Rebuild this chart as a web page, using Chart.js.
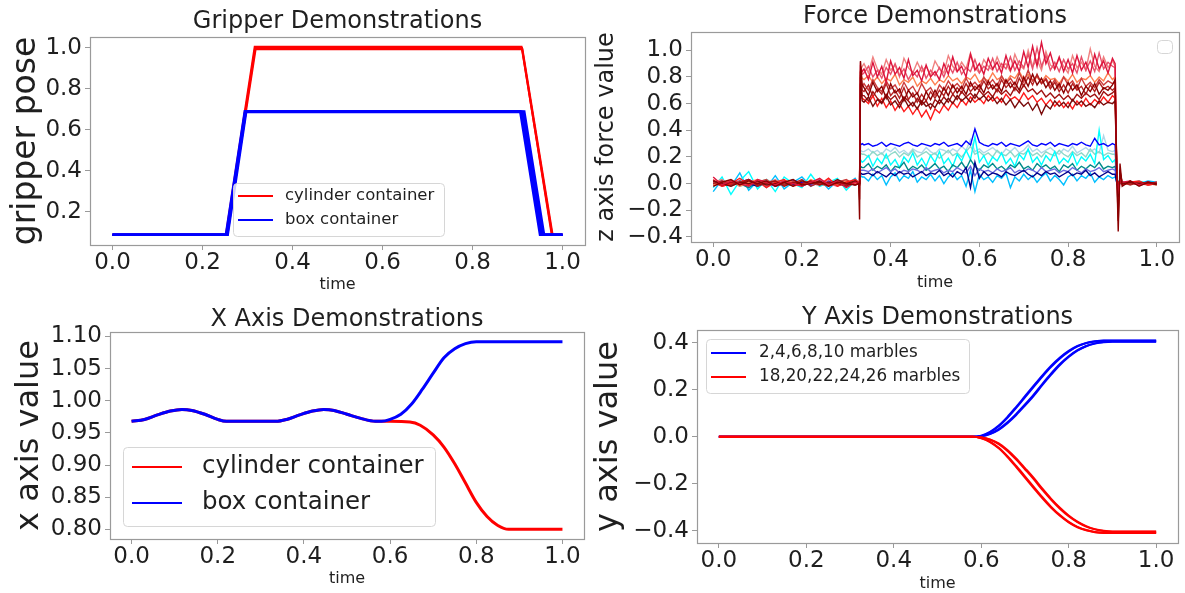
<!DOCTYPE html>
<html><head><meta charset="utf-8">
<script src="https://cdn.jsdelivr.net/npm/chart.js@4.4.1/dist/chart.umd.min.js"></script>
<style>
html,body{margin:0;padding:0;background:#fff;}
#wrap{position:relative;width:1185px;height:593px;overflow:hidden;background:#fff;}
canvas{position:absolute;}
</style></head><body>
<div id="wrap">
<canvas id="c1" width="592" height="296" style="left:0px;top:0px;width:592px;height:296px"></canvas>
<canvas id="c2" width="593" height="296" style="left:592px;top:0px;width:593px;height:296px"></canvas>
<canvas id="c3" width="592" height="297" style="left:0px;top:296px;width:592px;height:297px"></canvas>
<canvas id="c4" width="593" height="297" style="left:592px;top:296px;width:593px;height:297px"></canvas>
</div>
<script>
// ================= DATA =================
// --- Gripper Demonstrations ---
const gripYTicks = [0.2, 0.4, 0.6, 0.8, 1.0];
const gripLegendLabels = ['cylinder container', 'box container'];
const gripCylT1 = [0, 0.252, 0.316, 0.909, 0.977, 1.0];
const gripCylY1 = [0.088, 0.088, 1.005, 1.005, 0.088, 0.088];
const gripCylT2 = [0, 0.254, 0.318, 0.911, 0.978, 1.0];
const gripCylY2 = [0.088, 0.088, 0.992, 0.992, 0.088, 0.088];
const gripCylT3 = [0, 0.253, 0.317, 0.910, 0.976, 1.0];
const gripCylY3 = [0.088, 0.088, 0.998, 0.998, 0.088, 0.088];
const gripBoxT1 = [0, 0.252, 0.294, 0.906, 0.950, 1.0];
const gripBoxY1 = [0.088, 0.088, 0.690, 0.690, 0.088, 0.088];
const gripBoxT2 = [0, 0.254, 0.296, 0.909, 0.953, 1.0];
const gripBoxY2 = [0.088, 0.088, 0.688, 0.688, 0.088, 0.088];
const gripBoxT3 = [0, 0.256, 0.297, 0.912, 0.956, 1.0];
const gripBoxY3 = [0.088, 0.088, 0.686, 0.686, 0.088, 0.088];
const gripBoxT4 = [0, 0.255, 0.295, 0.915, 0.959, 1.0];
const gripBoxY4 = [0.088, 0.088, 0.689, 0.689, 0.088, 0.088];

// --- Force Demonstrations ---
const forceYTicks = [-0.4, -0.2, 0.0, 0.2, 0.4, 0.6, 0.8, 1.0];
const forceT = [
  0, 0.02, 0.04, 0.06, 0.08, 0.10, 0.12, 0.14, 0.16, 0.18, 0.20, 0.22, 0.24, 0.26, 0.28, 0.30, 0.32,
  0.328, 0.330, 0.332, 0.336,
  0.34, 0.35, 0.36, 0.37, 0.38, 0.39, 0.40, 0.41, 0.42, 0.43,
  0.44, 0.45, 0.46, 0.47, 0.48, 0.49, 0.50, 0.51, 0.52, 0.53,
  0.54, 0.55, 0.56, 0.57, 0.58, 0.59, 0.60, 0.61, 0.62, 0.63,
  0.64, 0.65, 0.66, 0.67, 0.68, 0.69, 0.70, 0.71, 0.72, 0.73,
  0.74, 0.75, 0.76, 0.77, 0.78, 0.79, 0.80, 0.81, 0.82, 0.83,
  0.84, 0.85, 0.86, 0.87, 0.88, 0.89, 0.90,
  0.906, 0.910, 0.913, 0.917, 0.922,
  0.94, 0.96, 0.98, 1.0
];
const forceDarkRed = [
  -0.02, 0.01, 0.03, -0.01, 0.02, 0.00, 0.02, -0.02, 0.01, 0.03, -0.01, 0.00, 0.02, -0.02, 0.01, 0.00, -0.01,
  0.00, -0.27, 0.92, 0.74,
  0.72, 0.66, 0.76, 0.69, 0.73, 0.64, 0.75, 0.68, 0.71, 0.62,
  0.70, 0.65, 0.68, 0.60, 0.69, 0.63, 0.70, 0.64, 0.72, 0.66,
  0.74, 0.68, 0.73, 0.67, 0.76, 0.70, 0.74, 0.68, 0.77, 0.71,
  0.75, 0.69, 0.78, 0.72, 0.76, 0.70, 0.80, 0.73, 0.82, 0.74,
  0.79, 0.72, 0.77, 0.70, 0.75, 0.68, 0.76, 0.70, 0.74, 0.66,
  0.73, 0.69, 0.75, 0.67, 0.72, 0.70, 0.74,
  0.78, 0.05, -0.36, 0.15, -0.02,
  0.02, -0.02, 0.01, 0.00
];
const forceCrimson = [
  0.05, -0.01, 0.02, 0.00, -0.02, 0.03, 0.01, -0.01, 0.02, 0.00, -0.02, 0.01, 0.04, -0.01, 0.02, -0.03, 0.01,
  0.00, 0.02, 0.88, 0.84,
  0.86, 0.78, 0.91, 0.80, 0.88, 0.76, 0.92, 0.82, 0.87, 0.79,
  0.93, 0.81, 0.85, 0.77, 0.89, 0.80, 0.84, 0.78, 0.90, 0.82,
  0.95, 0.84, 0.88, 0.80, 0.97, 0.85, 0.90, 0.82, 0.94, 0.86,
  0.91, 0.83, 0.96, 0.85, 0.92, 0.84, 0.99, 0.87, 1.03, 0.88,
  1.06, 0.90, 0.98, 0.86, 0.95, 0.84, 0.93, 0.83, 0.96, 0.85,
  0.91, 0.82, 0.97, 0.86, 0.92, 0.83, 0.94,
  0.90, 0.02, -0.05, 0.03, 0.01,
  0.02, -0.01, 0.01, 0.00
];
const forceMaroon = [
  0.02, 0.00, -0.02, 0.01, 0.00, 0.02, -0.01, 0.00, 0.01, -0.02, 0.02, 0.00, 0.01, -0.01, 0.03, 0.00, 0.02,
  0.00, 0.00, 0.75, 0.62,
  0.61, 0.65, 0.58, 0.63, 0.60, 0.66, 0.59, 0.62, 0.57, 0.64,
  0.58, 0.61, 0.56, 0.62, 0.58, 0.60, 0.57, 0.63, 0.59, 0.64,
  0.60, 0.66, 0.62, 0.65, 0.61, 0.67, 0.63, 0.66, 0.62, 0.65,
  0.60, 0.64, 0.59, 0.63, 0.57, 0.62, 0.58, 0.61, 0.55, 0.60,
  0.52, 0.59, 0.56, 0.62, 0.58, 0.61, 0.57, 0.63, 0.59, 0.62,
  0.58, 0.60, 0.57, 0.62, 0.59, 0.61, 0.60,
  0.62, 0.03, -0.10, 0.05, 0.00,
  0.01, 0.00, 0.01, -0.01
];
const forceBrown = [
  0.02, -0.01, 0.01, 0.00, 0.03, -0.01, 0.00, 0.02, -0.02, 0.01, 0.00, 0.02, -0.01, 0.01, 0.00, -0.02, 0.02,
  0.00, -0.12, 0.84, 0.66,
  0.66, 0.62, 0.69, 0.64, 0.61, 0.67, 0.63, 0.66, 0.60, 0.65,
  0.62, 0.58, 0.64, 0.59, 0.62, 0.56, 0.63, 0.60, 0.65, 0.61,
  0.67, 0.63, 0.69, 0.65, 0.68, 0.64, 0.70, 0.66, 0.69, 0.65,
  0.71, 0.67, 0.70, 0.66, 0.72, 0.68, 0.74, 0.69, 0.71, 0.67,
  0.70, 0.65, 0.68, 0.64, 0.67, 0.63, 0.66, 0.62, 0.67, 0.64,
  0.68, 0.65, 0.67, 0.63, 0.69, 0.66, 0.68,
  0.70, 0.04, -0.28, 0.10, 0.00,
  0.01, -0.01, 0.01, 0.00
];
const forceRed = [
  0.03, -0.02, 0.00, 0.04, -0.01, 0.02, -0.03, 0.01, 0.03, -0.02, 0.00, 0.02, -0.01, 0.04, -0.02, 0.01, 0.03,
  0.01, 0.00, 0.70, 0.64,
  0.63, 0.60, 0.66, 0.58, 0.64, 0.57, 0.62, 0.55, 0.60, 0.54,
  0.58, 0.52, 0.57, 0.50, 0.55, 0.48, 0.56, 0.53, 0.59, 0.55,
  0.61, 0.57, 0.63, 0.59, 0.65, 0.61, 0.64, 0.60, 0.66, 0.62,
  0.65, 0.61, 0.67, 0.63, 0.65, 0.62, 0.68, 0.63, 0.66, 0.61,
  0.64, 0.59, 0.63, 0.58, 0.62, 0.57, 0.61, 0.56, 0.62, 0.58,
  0.64, 0.59, 0.63, 0.60, 0.65, 0.61, 0.66,
  0.64, 0.03, 0.00, 0.02, -0.01,
  0.01, 0.02, -0.01, 0.00
];
const forceFirebrick = [
  0.00, 0.02, -0.01, 0.01, 0.03, -0.02, 0.01, 0.02, -0.01, 0.00, 0.03, -0.02, 0.01, 0.00, 0.02, -0.01, 0.02,
  0.00, 0.00, 0.80, 0.70,
  0.69, 0.74, 0.65, 0.71, 0.67, 0.75, 0.66, 0.70, 0.64, 0.72,
  0.63, 0.68, 0.61, 0.67, 0.62, 0.69, 0.64, 0.70, 0.66, 0.73,
  0.67, 0.72, 0.68, 0.75, 0.69, 0.73, 0.70, 0.77, 0.71, 0.74,
  0.69, 0.78, 0.72, 0.76, 0.70, 0.79, 0.73, 0.80, 0.74, 0.82,
  0.75, 0.78, 0.71, 0.76, 0.69, 0.74, 0.68, 0.75, 0.70, 0.73,
  0.67, 0.74, 0.69, 0.76, 0.71, 0.73, 0.70,
  0.72, 0.04, -0.20, 0.08, 0.01,
  -0.01, 0.01, 0.00, 0.01
];
const forceIndianRed = [
  0.01, -0.02, 0.00, 0.02, -0.01, 0.01, 0.03, -0.02, 0.00, 0.01, -0.01, 0.02, 0.00, -0.02, 0.01, 0.03, -0.01,
  0.00, 0.00, 0.78, 0.73,
  0.75, 0.70, 0.78, 0.72, 0.69, 0.77, 0.71, 0.74, 0.68, 0.76,
  0.70, 0.73, 0.67, 0.75, 0.69, 0.72, 0.66, 0.74, 0.70, 0.77,
  0.72, 0.75, 0.71, 0.79, 0.73, 0.76, 0.72, 0.80, 0.74, 0.78,
  0.73, 0.81, 0.75, 0.79, 0.74, 0.83, 0.76, 0.85, 0.77, 0.81,
  0.75, 0.79, 0.73, 0.78, 0.72, 0.80, 0.74, 0.77, 0.71, 0.79,
  0.73, 0.76, 0.72, 0.78, 0.74, 0.77, 0.75,
  0.76, 0.02, -0.04, 0.04, 0.00,
  0.00, 0.01, -0.01, 0.00
];
const forceCoral = [
  -0.01, 0.00, 0.02, -0.02, 0.01, 0.03, 0.00, -0.01, 0.02, 0.01, -0.02, 0.03, 0.00, 0.01, -0.01, 0.02, 0.00,
  0.00, 0.01, 0.82, 0.79,
  0.78, 0.81, 0.76, 0.80, 0.75, 0.79, 0.77, 0.82, 0.74, 0.78,
  0.76, 0.80, 0.73, 0.77, 0.75, 0.79, 0.74, 0.78, 0.76, 0.81,
  0.77, 0.79, 0.75, 0.80, 0.78, 0.82, 0.76, 0.79, 0.77, 0.83,
  0.78, 0.80, 0.76, 0.81, 0.79, 0.84, 0.78, 0.82, 0.77, 0.80,
  0.76, 0.81, 0.78, 0.79, 0.75, 0.80, 0.77, 0.82, 0.76, 0.79,
  0.78, 0.81, 0.76, 0.80, 0.77, 0.83, 0.78,
  0.80, 0.02, 0.00, 0.01, 0.00,
  0.00, 0.01, 0.00, -0.01
];
const forceSalmon = [
  -0.01, 0.01, 0.02, -0.01, 0.00, 0.02, -0.02, 0.01, 0.00, 0.02, -0.01, 0.01, 0.03, 0.00, -0.02, 0.01, 0.00,
  0.00, 0.00, 0.86, 0.82,
  0.83, 0.88, 0.80, 0.85, 0.79, 0.87, 0.82, 0.90, 0.81, 0.86,
  0.78, 0.84, 0.80, 0.88, 0.79, 0.85, 0.81, 0.87, 0.80, 0.89,
  0.83, 0.91, 0.82, 0.87, 0.84, 0.93, 0.83, 0.88, 0.85, 0.94,
  0.84, 0.90, 0.86, 0.95, 0.85, 0.92, 0.87, 0.97, 0.86, 1.02,
  0.88, 0.96, 0.85, 0.91, 0.84, 0.93, 0.86, 0.90, 0.83, 0.95,
  0.85, 0.92, 0.84, 0.98, 0.86, 0.91, 0.88,
  0.87, 0.01, 0.00, 0.01, 0.00,
  0.01, -0.01, 0.00, 0.01
];
const forceLightCoral = [
  0.01, 0.03, -0.02, 0.01, 0.02, -0.01, 0.00, 0.03, -0.02, 0.01, 0.02, 0.00, -0.01, 0.03, 0.00, 0.02, -0.01,
  0.01, 0.00, 0.85, 0.88,
  0.90, 0.83, 0.95, 0.86, 0.82, 0.93, 0.85, 0.89, 0.80, 0.94,
  0.87, 0.83, 0.91, 0.84, 0.88, 0.81, 0.92, 0.86, 0.83, 0.96,
  0.88, 0.84, 0.91, 0.86, 0.98, 0.87, 0.83, 0.93, 0.88, 0.85,
  0.95, 0.87, 0.90, 0.84, 0.97, 0.89, 0.86, 1.00, 0.88, 0.93,
  0.85, 0.99, 0.89, 0.86, 0.94, 0.88, 0.83, 0.96, 0.87, 0.91,
  0.85, 1.01, 0.88, 0.84, 0.95, 0.87, 0.92,
  0.88, 0.01, 0.00, 0.02, 0.00,
  0.01, 0.00, -0.01, 0.01
];
const forceBlue = [
  0.02, 0.00, -0.01, 0.01, 0.03, 0.00, 0.01, -0.02, 0.00, 0.02, 0.01, -0.01, 0.00, 0.02, -0.01, 0.01, 0.00,
  0.00, 0.01, 0.29, 0.30,
  0.29, 0.30, 0.28, 0.29, 0.31, 0.28, 0.30, 0.29, 0.28, 0.30,
  0.31, 0.29, 0.28, 0.30, 0.29, 0.28, 0.30, 0.29, 0.31, 0.28,
  0.29, 0.30, 0.28, 0.32, 0.29, 0.41, 0.31, 0.29, 0.28, 0.30,
  0.29, 0.31, 0.28, 0.30, 0.29, 0.28, 0.30, 0.32, 0.29, 0.28,
  0.30, 0.29, 0.31, 0.28, 0.30, 0.29, 0.28, 0.30, 0.29, 0.31,
  0.29, 0.28, 0.34, 0.29, 0.30, 0.28, 0.30,
  0.29, 0.01, 0.00, 0.01, 0.00,
  0.01, 0.00, 0.01, 0.00
];
const forceLightBlue = [
  0.01, 0.00, -0.02, 0.02, 0.01, -0.01, 0.00, 0.03, -0.01, 0.00, 0.02, 0.01, -0.02, 0.01, 0.00, 0.02, -0.01,
  0.00, 0.00, 0.25, 0.24,
  0.24, 0.26, 0.23, 0.25, 0.22, 0.26, 0.24, 0.27, 0.23, 0.25,
  0.22, 0.26, 0.24, 0.23, 0.27, 0.24, 0.22, 0.26, 0.25, 0.23,
  0.26, 0.24, 0.28, 0.25, 0.33, 0.24, 0.26, 0.23, 0.25, 0.27,
  0.24, 0.22, 0.26, 0.24, 0.27, 0.23, 0.25, 0.29, 0.24, 0.26,
  0.23, 0.25, 0.27, 0.24, 0.22, 0.26, 0.24, 0.28, 0.23, 0.25,
  0.27, 0.24, 0.26, 0.23, 0.36, 0.25, 0.24,
  0.25, 0.01, 0.00, 0.01, 0.00,
  0.00, 0.01, 0.00, 0.00
];
const forceAqua = [
  0.00, 0.02, 0.01, -0.02, 0.00, 0.01, 0.03, 0.00, -0.01, 0.01, 0.00, 0.02, -0.01, 0.00, 0.01, 0.02, 0.00,
  0.00, 0.00, 0.23, 0.22,
  0.22, 0.20, 0.24, 0.21, 0.23, 0.19, 0.22, 0.24, 0.20, 0.23,
  0.21, 0.25, 0.20, 0.22, 0.24, 0.21, 0.23, 0.19, 0.22, 0.25,
  0.21, 0.23, 0.20, 0.24, 0.28, 0.22, 0.24, 0.21, 0.23, 0.20,
  0.25, 0.22, 0.21, 0.24, 0.20, 0.23, 0.22, 0.25, 0.21, 0.23,
  0.20, 0.24, 0.22, 0.21, 0.25, 0.22, 0.20, 0.24, 0.21, 0.23,
  0.20, 0.26, 0.22, 0.24, 0.21, 0.23, 0.22,
  0.22, 0.00, 0.02, 0.01, 0.00,
  0.00, 0.01, 0.00, 0.01
];
const forceCyan = [
  -0.03, 0.05, -0.08, 0.02, 0.09, -0.04, 0.03, -0.06, 0.05, 0.00, -0.03, 0.07, -0.02, 0.01, 0.04, -0.05, 0.02,
  0.00, 0.00, 0.18, 0.16,
  0.17, 0.21, 0.13, 0.19, 0.15, 0.22, 0.14, 0.18, 0.12, 0.20,
  0.16, 0.23, 0.14, 0.19, 0.13, 0.21, 0.16, 0.24, 0.15, 0.19,
  0.13, 0.22, 0.17, 0.25, 0.18, 0.35, 0.16, 0.21, 0.14, 0.20,
  0.17, 0.23, 0.15, 0.19, 0.13, 0.22, 0.18, 0.26, 0.16, 0.20,
  0.14, 0.21, 0.17, 0.24, 0.15, 0.19, 0.16, 0.23, 0.14, 0.20,
  0.17, 0.22, 0.15, 0.40, 0.18, 0.21, 0.16,
  0.18, 0.02, 0.00, 0.03, 0.01,
  0.00, 0.02, 0.00, 0.01
];
const forceTeal = [
  0.01, -0.01, 0.02, 0.00, -0.03, 0.01, 0.02, -0.01, 0.00, 0.03, -0.02, 0.01, 0.00, -0.01, 0.02, -0.02, 0.01,
  0.00, 0.00, 0.13, 0.12,
  0.12, 0.15, 0.10, 0.13, 0.11, 0.14, 0.09, 0.13, 0.12, 0.16,
  0.10, 0.13, 0.11, 0.14, 0.10, 0.12, 0.15, 0.11, 0.13, 0.09,
  0.14, 0.12, 0.16, 0.11, 0.18, 0.13, 0.10, 0.14, 0.12, 0.15,
  0.11, 0.13, 0.10, 0.14, 0.12, 0.16, 0.11, 0.13, 0.10, 0.15,
  0.12, 0.14, 0.11, 0.13, 0.09, 0.14, 0.12, 0.15, 0.10, 0.13,
  0.11, 0.14, 0.12, 0.16, 0.11, 0.13, 0.12,
  0.13, 0.01, -0.02, 0.02, 0.00,
  0.01, 0.00, 0.01, 0.00
];
const forceSlateBlue = [
  0.00, -0.01, 0.01, 0.02, -0.01, 0.00, 0.01, -0.02, 0.02, 0.00, -0.01, 0.01, 0.00, 0.02, -0.01, 0.00, 0.01,
  0.00, 0.00, 0.10, 0.10,
  0.10, 0.09, 0.11, 0.08, 0.10, 0.12, 0.09, 0.11, 0.08, 0.10,
  0.09, 0.11, 0.10, 0.08, 0.12, 0.09, 0.10, 0.11, 0.08, 0.10,
  0.09, 0.12, 0.10, 0.08, 0.13, 0.06, 0.11, 0.09, 0.10, 0.08,
  0.11, 0.09, 0.10, 0.12, 0.08, 0.10, 0.09, 0.11, 0.10, 0.08,
  0.12, 0.09, 0.10, 0.11, 0.08, 0.10, 0.09, 0.12, 0.10, 0.08,
  0.11, 0.09, 0.10, 0.12, 0.09, 0.10, 0.11,
  0.10, 0.00, 0.01, 0.00, 0.00,
  0.01, 0.00, 0.00, 0.01
];
const forceDarkBlue = [
  0.00, 0.02, -0.01, 0.01, 0.00, -0.02, 0.01, 0.02, 0.00, -0.01, 0.01, 0.00, 0.02, -0.01, 0.00, 0.01, -0.01,
  0.00, 0.00, 0.08, 0.07,
  0.07, 0.08, 0.06, 0.09, 0.07, 0.05, 0.08, 0.06, 0.09, 0.07,
  0.08, 0.05, 0.07, 0.09, 0.06, 0.08, 0.07, 0.10, 0.06, 0.08,
  0.05, 0.09, 0.07, 0.12, -0.03, 0.16, 0.04, 0.09, 0.06, 0.08,
  0.07, 0.05, 0.09, 0.07, 0.06, 0.08, 0.10, 0.07, 0.05, 0.08,
  0.06, 0.09, 0.07, 0.08, 0.05, 0.07, 0.09, 0.06, 0.08, 0.07,
  0.10, 0.06, 0.08, 0.05, 0.07, 0.09, 0.07,
  0.07, 0.00, 0.01, 0.00, 0.01,
  0.00, 0.01, 0.00, 0.00
];
const forceSkyBlue = [
  -0.06, 0.03, -0.02, 0.08, -0.05, 0.02, -0.03, 0.06, -0.04, 0.01, 0.05, -0.02, 0.03, -0.04, 0.02, -0.01, 0.04,
  0.00, 0.00, 0.06, 0.05,
  0.05, 0.02, 0.07, 0.03, 0.06, -0.01, 0.05, 0.08, 0.02, 0.06,
  0.04, 0.09, 0.01, 0.05, 0.03, 0.07, 0.02, 0.06, 0.00, 0.05,
  0.08, 0.03, 0.06, -0.02, 0.10, -0.06, 0.07, 0.03, 0.05, 0.01,
  0.06, 0.04, 0.08, -0.03, 0.05, 0.02, 0.07, 0.03, 0.06, 0.01,
  0.05, 0.08, 0.02, 0.06, 0.03, -0.01, 0.05, 0.07, 0.02, 0.06,
  0.04, 0.08, 0.01, 0.05, 0.03, 0.06, 0.04,
  0.05, 0.01, 0.00, 0.02, 0.00,
  0.01, 0.00, 0.02, 0.01
];

// --- X Axis Demonstrations ---
const xAxYTicks = [0.80, 0.85, 0.90, 0.95, 1.00, 1.05, 1.10];
const xAxLegendLabels = ['cylinder container', 'box container'];
const xAxSharedT = [0, 0.03, 0.06, 0.09, 0.117, 0.14, 0.17, 0.20, 0.22, 0.26, 0.30, 0.335, 0.36, 0.39, 0.42, 0.446, 0.47, 0.50, 0.53, 0.566, 0.58];
const xAxSharedV = [0.968, 0.971, 0.978, 0.984, 0.9865, 0.985, 0.979, 0.971, 0.968, 0.968, 0.968, 0.968, 0.971, 0.978, 0.984, 0.9865, 0.985, 0.979, 0.973, 0.968, 0.968];
const xAxBoxT = [0.60, 0.625, 0.65, 0.675, 0.70, 0.725, 0.75, 0.775, 0.80, 0.825, 0.85, 0.90, 1.0];
const xAxBoxV = [0.971, 0.979, 0.995, 1.018, 1.043, 1.067, 1.081, 1.089, 1.092, 1.092, 1.092, 1.092, 1.092];
const xAxCylT = [0.60, 0.646, 0.67, 0.70, 0.725, 0.75, 0.775, 0.80, 0.825, 0.85, 0.875, 0.90, 1.0];
const xAxCylV = [0.968, 0.967, 0.962, 0.947, 0.928, 0.902, 0.872, 0.842, 0.820, 0.806, 0.800, 0.800, 0.800];

// --- Y Axis Demonstrations ---
const yAxYTicks = [-0.4, -0.2, 0.0, 0.2, 0.4];
const yAxLegendLabels = ['2,4,6,8,10 marbles', '18,20,22,24,26 marbles'];
const yAxT = [0, 0.2, 0.4, 0.58, 0.60, 0.62, 0.64, 0.66, 0.68, 0.70, 0.72, 0.74, 0.76, 0.78, 0.80, 0.82, 0.84, 0.86, 0.88, 0.90, 1.0];
const yAxFew1 = [0, 0, 0, 0, 0.005, 0.021, 0.048, 0.085, 0.128, 0.173, 0.218, 0.262, 0.303, 0.338, 0.366, 0.387, 0.400, 0.407, 0.410, 0.410, 0.410];
const yAxFew2 = [0, 0, 0, 0, 0.004, 0.019, 0.045, 0.081, 0.123, 0.168, 0.213, 0.257, 0.298, 0.334, 0.363, 0.385, 0.399, 0.406, 0.409, 0.409, 0.409];
const yAxFew3 = [0, 0, 0, 0, 0.003, 0.013, 0.033, 0.062, 0.098, 0.138, 0.180, 0.226, 0.270, 0.310, 0.343, 0.369, 0.387, 0.398, 0.404, 0.406, 0.406];
const yAxFew4 = [0, 0, 0, 0, 0.002, 0.012, 0.030, 0.058, 0.093, 0.133, 0.175, 0.221, 0.265, 0.306, 0.340, 0.367, 0.386, 0.397, 0.403, 0.405, 0.405];
const yAxMany1 = [0, 0, 0, 0, -0.003, -0.012, -0.031, -0.060, -0.097, -0.138, -0.180, -0.226, -0.268, -0.306, -0.338, -0.363, -0.382, -0.394, -0.401, -0.404, -0.404];
const yAxMany2 = [0, 0, 0, 0, -0.002, -0.011, -0.028, -0.056, -0.092, -0.133, -0.175, -0.221, -0.264, -0.302, -0.335, -0.361, -0.380, -0.393, -0.400, -0.403, -0.403];
const yAxMany3 = [0, 0, 0, 0, -0.005, -0.020, -0.046, -0.082, -0.124, -0.168, -0.213, -0.257, -0.298, -0.333, -0.362, -0.383, -0.397, -0.405, -0.408, -0.408, -0.408];
const yAxMany4 = [0, 0, 0, 0, -0.006, -0.022, -0.049, -0.086, -0.129, -0.173, -0.218, -0.262, -0.302, -0.336, -0.364, -0.385, -0.398, -0.406, -0.409, -0.409, -0.409];

const timeTicks = [0, 0.2, 0.4, 0.6, 0.8, 1.0];

// ================= RENDERING =================
const FONT = 'DejaVu Sans';
const TXT = '#1f1f1f';
const SPINE = '#9a9a9a';
const RED = '#ff0000';
const BLUE = '#0000ff';

function pts(t, y) { return t.map((v, i) => ({x: v, y: y[i]})); }
function line(label, t, y, color, width, extra) {
  return Object.assign({label, data: pts(t, y), borderColor: color, backgroundColor: color,
    borderWidth: width, pointRadius: 0, tension: 0, fill: false}, extra || {});
}
function fmt(v, dec) {
  const s = Math.abs(v).toFixed(dec);
  return (v < -1e-9 ? '\u2212' : '') + s;
}

const spinePlugin = {
  id: 'spines',
  afterDatasetsDraw(chart) {
    const a = chart.chartArea, ctx = chart.ctx;
    ctx.save();
    ctx.strokeStyle = SPINE; ctx.lineWidth = 1.2;
    ctx.strokeRect(Math.round(a.left) + 0.5, Math.round(a.top) + 0.5,
      Math.round(a.right - a.left), Math.round(a.bottom - a.top));
    ctx.restore();
  }
};
function roundRect(ctx, x, y, w, h, r) {
  ctx.beginPath();
  ctx.moveTo(x + r, y); ctx.lineTo(x + w - r, y); ctx.arcTo(x + w, y, x + w, y + r, r);
  ctx.lineTo(x + w, y + h - r); ctx.arcTo(x + w, y + h, x + w - r, y + h, r);
  ctx.lineTo(x + r, y + h); ctx.arcTo(x, y + h, x, y + h - r, r);
  ctx.lineTo(x, y + r); ctx.arcTo(x, y, x + r, y, r); ctx.closePath();
}
const boxLegendPlugin = {
  id: 'boxLegend',
  afterDraw(chart, args, opts) {
    if (!opts || !opts.box) return;
    const ctx = chart.ctx, b = opts.box;
    ctx.save();
    roundRect(ctx, b.x + 0.5, b.y + 0.5, b.w, b.h, 4);
    ctx.fillStyle = 'rgba(255,255,255,0.8)'; ctx.fill();
    ctx.strokeStyle = '#d6d6d6'; ctx.lineWidth = 1; ctx.stroke();
    const labels = opts.labels || [], colors = opts.colors || [];
    labels.forEach((lab, i) => {
      const y = b.rowY + i * b.rowGap;
      ctx.beginPath(); ctx.moveTo(b.lineX0, y); ctx.lineTo(b.lineX1, y);
      ctx.strokeStyle = colors[i]; ctx.lineWidth = b.lineW || 2; ctx.stroke();
      ctx.fillStyle = TXT; ctx.font = b.fontSize + 'px "' + FONT + '"';
      ctx.textBaseline = 'middle'; ctx.textAlign = 'left';
      ctx.fillText(lab, b.textX, y);
    });
    ctx.restore();
  }
};
Chart.register(spinePlugin, boxLegendPlugin);

function build(id, o) {
  const tickFont = {family: FONT, size: 23, lineHeight: 1};
  return new Chart(document.getElementById(id), {
    type: 'line',
    data: {datasets: o.datasets},
    options: {
      responsive: false, animation: false, events: [], devicePixelRatio: 1,
      layout: {padding: {left: 0, top: 0, right: o.padR, bottom: 0}},
      plugins: {
        legend: {display: false}, tooltip: {enabled: false},
        title: {display: true, fullSize: false, text: o.title, color: TXT,
          font: {family: FONT, size: 24, weight: 'normal', lineHeight: 1},
          padding: {top: o.tTop, bottom: o.tBot}},
        boxLegend: o.legend
      },
      scales: {
        x: {
          type: 'linear', min: -0.05, max: 1.05,
          afterBuildTicks: s => { s.ticks = timeTicks.map(v => ({value: v})); },
          afterFit: s => { s.height = o.xH; },
          ticks: {autoSkip: false, maxRotation: 0, minRotation: 0, padding: 2, color: TXT, font: tickFont,
            callback: v => fmt(v, 1)},
          grid: {drawOnChartArea: false, drawTicks: true, tickLength: 5, color: SPINE},
          border: {display: false},
          title: {display: true, text: 'time', color: TXT, font: {family: FONT, size: 16, lineHeight: 1.2},
            padding: {top: 0, bottom: o.xTitlePad}}
        },
        y: {
          type: 'linear', min: o.yMin, max: o.yMax,
          afterBuildTicks: s => { s.ticks = o.yTicks.map(v => ({value: v})); },
          afterFit: s => { s.width = o.yW; },
          ticks: {autoSkip: false, padding: 3, color: TXT, font: tickFont, callback: v => fmt(v, o.yDec)},
          grid: {drawOnChartArea: false, drawTicks: true, tickLength: 5, color: SPINE},
          border: {display: false},
          title: {display: true, text: o.yTitle, color: TXT, font: {family: FONT, size: o.yTitleSize, lineHeight: 1},
            padding: {top: o.yTitlePad, bottom: 0}}
        }
      }
    }
  });
}

// Gripper
build('c1', {
  title: 'Gripper Demonstrations', yTitle: 'gripper pose', yTitleSize: 33, yTitlePad: 9.5,
  yMin: 0.038, yMax: 1.052, yTicks: gripYTicks, yDec: 1,
  yW: 90, xH: 51, padR: 7, tTop: 10, tBot: 3, xTitlePad: 1.4,
  legend: {labels: gripLegendLabels, colors: [RED, BLUE],
    box: {x: 233, y: 183, w: 211, h: 53, rowY: 196, rowGap: 24, lineX0: 238, lineX1: 273, textX: 285, fontSize: 16.5}},
  datasets: [
    line('box', gripBoxT1, gripBoxY1, BLUE, 2.5),
    line('box', gripBoxT2, gripBoxY2, BLUE, 2.5),
    line('box', gripBoxT3, gripBoxY3, BLUE, 2.5),
    line('box', gripBoxT4, gripBoxY4, BLUE, 2.5),
    line('cyl', gripCylT1, gripCylY1, RED, 2),
    line('cyl', gripCylT2, gripCylY2, RED, 2),
    line('cyl', gripCylT3, gripCylY3, RED, 2)
  ]
});

// Force
build('c2', {
  title: 'Force Demonstrations', yTitle: 'z axis force value', yTitleSize: 24, yTitlePad: 3,
  yMin: -0.438, yMax: 1.137, yTicks: forceYTicks, yDec: 1,
  yW: 99, xH: 54, padR: 6, tTop: 5, tBot: 3, xTitlePad: 3.4,
  legend: {labels: [], colors: [], box: {x: 565, y: 40, w: 15, h: 13, rowY: 0, rowGap: 0, lineX0: 0, lineX1: 0, textX: 0, fontSize: 12}},
  datasets: [
    line('f', forceT, forceDarkRed, '#8b0000', 1.4),
    line('f', forceT, forceCrimson, '#dc143c', 1.4),
    line('f', forceT, forceMaroon, '#7a0a0a', 1.4),
    line('f', forceT, forceBrown, '#a01010', 1.4),
    line('f', forceT, forceRed, '#ff1a1a', 1.4),
    line('f', forceT, forceFirebrick, '#b22222', 1.4),
    line('f', forceT, forceIndianRed, '#cd3c3c', 1.4),
    line('f', forceT, forceCoral, '#ff7f50', 1.4),
    line('f', forceT, forceSalmon, '#e8506a', 1.4),
    line('f', forceT, forceLightCoral, '#f08080', 1.4),
    line('f', forceT, forceBlue, '#0000ff', 1.4),
    line('f', forceT, forceDarkBlue, '#00008b', 1.4),
    line('f', forceT, forceSlateBlue, '#6a6ae0', 1.4),
    line('f', forceT, forceTeal, '#008b8b', 1.4),
    line('f', forceT, forceCyan, '#00ffff', 1.4),
    line('f', forceT, forceAqua, '#8fd8c8', 1.4),
    line('f', forceT, forceLightBlue, '#b0d8e8', 1.4),
    line('f', forceT, forceSkyBlue, '#00bfff', 1.4)
  ]
});

// X axis
build('c3', {
  title: 'X Axis Demonstrations', yTitle: 'x axis value', yTitleSize: 32, yTitlePad: 14,
  yMin: 0.785, yMax: 1.107, yTicks: xAxYTicks, yDec: 2,
  yW: 110, xH: 54, padR: 8, tTop: 12, tBot: 0, xTitlePad: 5,
  legend: {labels: xAxLegendLabels, colors: [RED, BLUE],
    box: {x: 123, y: 151, w: 312, h: 79, rowY: 171, rowGap: 36, lineX0: 132, lineX1: 182, textX: 202, fontSize: 24.5}},
  datasets: [
    line('box', xAxSharedT.concat(xAxBoxT), xAxSharedV.concat(xAxBoxV), BLUE, 3, {cubicInterpolationMode: 'monotone'}),
    line('cyl', xAxSharedT.concat(xAxCylT), xAxSharedV.concat(xAxCylV), RED, 3, {cubicInterpolationMode: 'monotone'})
  ]
});

// Y axis
build('c4', {
  title: 'Y Axis Demonstrations', yTitle: 'y axis value', yTitleSize: 32, yTitlePad: 1,
  yMin: -0.452, yMax: 0.455, yTicks: yAxYTicks, yDec: 1,
  yW: 105, xH: 50, padR: 7, tTop: 10, tBot: 0, xTitlePad: 0,
  legend: {labels: yAxLegendLabels, colors: [BLUE, RED],
    box: {x: 114, y: 43, w: 263, h: 54, rowY: 57, rowGap: 24, lineX0: 119, lineX1: 154, textX: 167, fontSize: 16.8}},
  datasets: [
    line('m', yAxT, yAxMany1, RED, 2, {cubicInterpolationMode: 'monotone'}),
    line('m', yAxT, yAxMany2, RED, 2, {cubicInterpolationMode: 'monotone'}),
    line('m', yAxT, yAxMany3, RED, 2, {cubicInterpolationMode: 'monotone'}),
    line('m', yAxT, yAxMany4, RED, 2, {cubicInterpolationMode: 'monotone'}),
    line('f', yAxT, yAxFew1, BLUE, 2, {cubicInterpolationMode: 'monotone'}),
    line('f', yAxT, yAxFew2, BLUE, 2, {cubicInterpolationMode: 'monotone'}),
    line('f', yAxT, yAxFew3, BLUE, 2, {cubicInterpolationMode: 'monotone'}),
    line('f', yAxT, yAxFew4, BLUE, 2, {cubicInterpolationMode: 'monotone'})
  ]
});
</script>
</body></html>
